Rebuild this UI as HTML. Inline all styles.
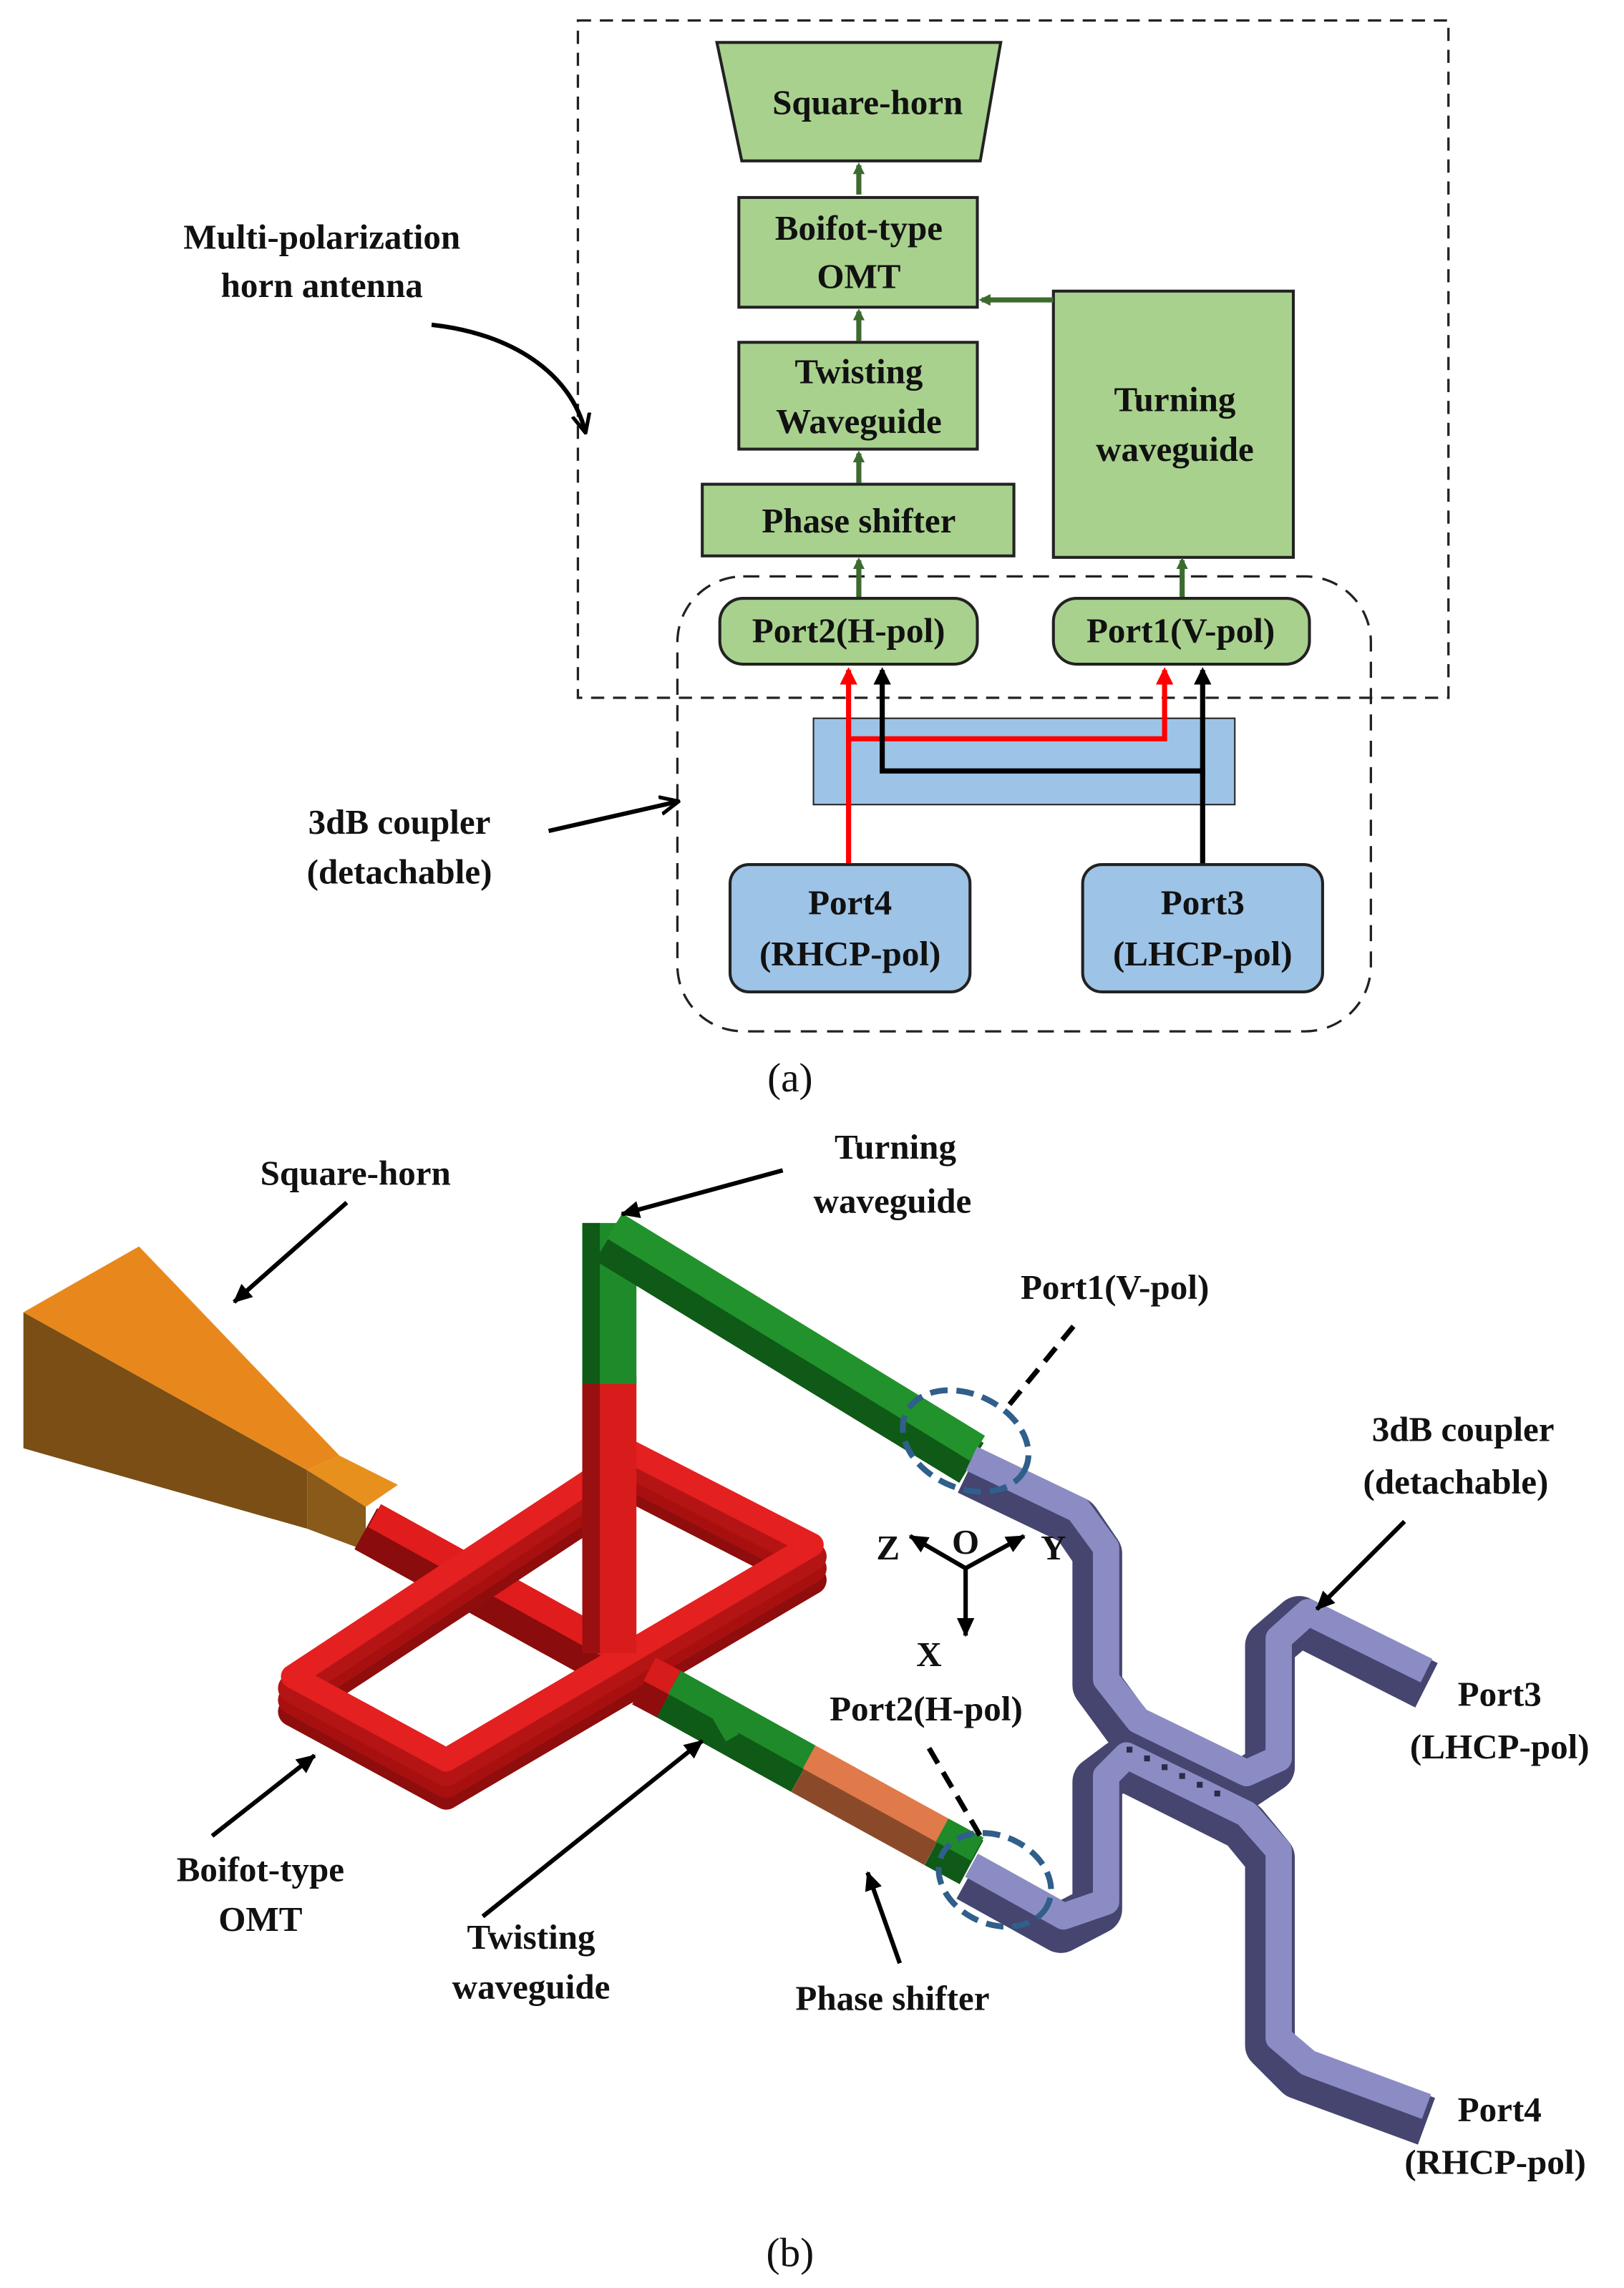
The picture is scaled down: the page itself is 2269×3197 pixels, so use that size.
<!DOCTYPE html>
<html><head><meta charset="utf-8"><style>
html,body{margin:0;padding:0;background:#fff}
svg{display:block}
text{font-family:"Liberation Serif",serif;font-weight:bold;fill:#111;text-anchor:middle}
</style></head><body>
<svg width="2269" height="3197" viewBox="0 0 1110 1564" preserveAspectRatio="none" xmlns="http://www.w3.org/2000/svg">
<defs>
<marker id="ag" markerWidth="8" markerHeight="8" refX="6" refY="4" orient="auto" markerUnits="userSpaceOnUse"><path d="M0,0 L8,4 L0,8 z" fill="#3d6b2f"/></marker>
<marker id="ar" markerWidth="12" markerHeight="12" refX="10" refY="6" orient="auto" markerUnits="userSpaceOnUse"><path d="M0,0 L12,6 L0,12 z" fill="#f00"/></marker>
<marker id="ab" markerWidth="12" markerHeight="12" refX="10" refY="6" orient="auto" markerUnits="userSpaceOnUse"><path d="M0,0 L12,6 L0,12 z" fill="#000"/></marker>
<marker id="ak" markerWidth="14" markerHeight="14" refX="12" refY="7" orient="auto" markerUnits="userSpaceOnUse"><path d="M0,1 L13,7 L0,13" fill="none" stroke="#000" stroke-width="2.5"/></marker>
<marker id="af" markerWidth="14" markerHeight="14" refX="12" refY="7" orient="auto" markerUnits="userSpaceOnUse"><path d="M0,1 L13,7 L0,13 z" fill="#000"/></marker>
</defs>
<!-- (a) -->
<rect x="395" y="14" width="595" height="463" fill="none" stroke="#222" stroke-width="1.6" stroke-dasharray="9,6"/>
<rect x="463" y="394" width="474" height="311" rx="45" fill="none" stroke="#222" stroke-width="1.6" stroke-dasharray="11,7"/>
<g fill="#a9d18e" stroke="#222" stroke-width="2">
<polygon points="490,29 684,29 670,110 507,110"/>
<rect x="505" y="135" width="163" height="75"/>
<rect x="505" y="234" width="163" height="73"/>
<rect x="480" y="331" width="213" height="49"/>
<rect x="720" y="199" width="164" height="182"/>
<rect x="492" y="409" width="176" height="45" rx="16"/>
<rect x="720" y="409" width="175" height="45" rx="16"/>
</g>
<g fill="#9dc3e6" stroke="#222" stroke-width="2">
<rect x="556" y="491" width="288" height="59" stroke-width="1"/>
<rect x="499" y="591" width="164" height="87" rx="13"/>
<rect x="740" y="591" width="164" height="87" rx="13"/>
</g>
<g stroke="#3d6b2f" stroke-width="3.5" fill="none">
<line x1="587" y1="133" x2="587" y2="113" marker-end="url(#ag)"/>
<line x1="587" y1="233" x2="587" y2="213" marker-end="url(#ag)"/>
<line x1="587" y1="330" x2="587" y2="310" marker-end="url(#ag)"/>
<line x1="587" y1="408" x2="587" y2="383" marker-end="url(#ag)"/>
<line x1="808" y1="408" x2="808" y2="383" marker-end="url(#ag)"/>
<line x1="720" y1="205" x2="671" y2="205" marker-end="url(#ag)"/>
</g>
<polyline points="580,590 580,505 796,505 796,458" fill="none" stroke="#f00" stroke-width="3.5" marker-end="url(#ar)"/>
<line x1="580" y1="510" x2="580" y2="458" stroke="#f00" stroke-width="3.5" marker-end="url(#ar)"/>
<polyline points="822,590 822,527 603,527 603,458" fill="none" stroke="#000" stroke-width="3.5" marker-end="url(#ab)"/>
<line x1="822" y1="530" x2="822" y2="458" stroke="#000" stroke-width="3.5" marker-end="url(#ab)"/>
<g font-size="24">
<text x="593" y="78">Square-horn</text>
<text x="587" y="164">Boifot-type</text>
<text x="587" y="197">OMT</text>
<text x="587" y="262">Twisting</text>
<text x="587" y="296">Waveguide</text>
<text x="587" y="364">Phase shifter</text>
<text x="803" y="281">Turning</text>
<text x="803" y="315">waveguide</text>
<text x="580" y="439">Port2(H-pol)</text>
<text x="807" y="439">Port1(V-pol)</text>
<text x="581" y="625">Port4</text>
<text x="581" y="660">(RHCP-pol)</text>
<text x="822" y="625">Port3</text>
<text x="822" y="660">(LHCP-pol)</text>
<text x="220" y="170">Multi-polarization</text>
<text x="220" y="203">horn antenna</text>
<text x="273" y="570">3dB coupler</text>
<text x="273" y="604">(detachable)</text>
</g>
<text x="540" y="746" font-size="28" style="font-weight:normal">(a)</text>
<path d="M295,222 C350,228 390,255 400,295" fill="none" stroke="#000" stroke-width="3" marker-end="url(#ak)"/>
<line x1="375" y1="568" x2="463" y2="548" stroke="#000" stroke-width="3" marker-end="url(#ak)"/>

<!-- (b) 3D -->
<!-- horn -->
<polygon points="16,897 210,1005 210,1045 16,990" fill="#7a4e14"/>
<polygon points="16,897 95,852 232,995 210,1005" fill="#e8881c"/>
<polygon points="210,1005 232,995 272,1015 250,1030" fill="#e8901e"/>
<polygon points="210,1005 250,1030 250,1060 210,1045" fill="#8a5a1a"/>
<!-- central red bar horn->lower arm -->
<g fill="none" stroke-linecap="butt">
<line x1="250" y1="1045" x2="440" y2="1150" stroke="#8a0c0c" stroke-width="32"/>
<line x1="256" y1="1036" x2="446" y2="1141" stroke="#e01c1c" stroke-width="18"/>
</g>
<!-- OMT ring (extruded) -->
<g fill="none" stroke-linejoin="round">
<path d="M200,1170 L432,1017 L555,1080 L305,1227 Z" stroke="#8f0d0d" stroke-width="20"/>
<path d="M200,1162 L432,1009 L555,1072 L305,1219 Z" stroke="#a81010" stroke-width="20"/>
<path d="M200,1154 L432,1001 L555,1064 L305,1211 Z" stroke="#b51414" stroke-width="20"/>
<path d="M200,1146 L432,993 L555,1056 L305,1203 Z" stroke="#e52020" stroke-width="16"/>
</g>
<!-- vertical post -->
<rect x="398" y="940" width="37" height="190" fill="#d81b1b"/>
<rect x="398" y="940" width="12" height="190" fill="#9a0f0f"/>
<rect x="398" y="836" width="37" height="110" fill="#1f8a2a"/>
<rect x="398" y="836" width="12" height="110" fill="#0f5a16"/>
<!-- top beam -->
<g fill="none" stroke-linecap="butt">
<line x1="415" y1="848" x2="664" y2="1000" stroke="#0f5a16" stroke-width="32"/>
<line x1="420" y1="838" x2="668" y2="990" stroke="#22922c" stroke-width="20"/>
</g>
<!-- lower arm -->
<g fill="none" stroke-linecap="butt">
<line x1="440" y1="1150" x2="457" y2="1159" stroke="#8f0d0d" stroke-width="34"/>
<line x1="457" y1="1159" x2="549" y2="1210" stroke="#0f5a16" stroke-width="34"/>
<line x1="549" y1="1210" x2="640" y2="1260" stroke="#8a4a2a" stroke-width="34"/>
<line x1="640" y1="1260" x2="664" y2="1273" stroke="#0f5a16" stroke-width="34"/>
<line x1="444" y1="1141" x2="461" y2="1150" stroke="#d81b1b" stroke-width="18"/>
<line x1="461" y1="1150" x2="553" y2="1201" stroke="#1f8a2a" stroke-width="18"/>
<line x1="553" y1="1201" x2="644" y2="1251" stroke="#e07a4a" stroke-width="18"/>
<line x1="644" y1="1251" x2="668" y2="1264" stroke="#1f8a2a" stroke-width="18"/>
</g>
<rect x="488" y="1160" width="10" height="30" fill="#1f8a2a" transform="rotate(-30 493 1175)"/>
<!-- purple coupler -->
<g fill="none" stroke-linejoin="round" stroke-linecap="butt">
<polyline points="662,1005 735,1040 750,1062 750,1152 772,1182 850,1220 868,1208 868,1125 888,1108 975,1152" stroke="#454570" stroke-width="34"/>
<polyline points="664,997 737,1032 756,1058 756,1148 778,1176 852,1212 874,1202 874,1120 894,1102 975,1142" stroke="#8c8cc4" stroke-width="18"/>
<polyline points="662,1283 725,1318 750,1305 750,1218 766,1206 850,1248 868,1270 868,1398 888,1418 975,1450" stroke="#454570" stroke-width="34"/>
<polyline points="664,1275 727,1310 756,1300 756,1214 770,1200 852,1240 874,1265 874,1393 894,1410 975,1440" stroke="#8c8cc4" stroke-width="18"/>
</g>
<g fill="#2b2b48">
<rect x="770" y="1194" width="4" height="4"/><rect x="782" y="1200" width="4" height="4"/><rect x="794" y="1206" width="4" height="4"/><rect x="806" y="1212" width="4" height="4"/><rect x="818" y="1218" width="4" height="4"/><rect x="830" y="1224" width="4" height="4"/>
</g>
<!-- dashed ellipses & leaders -->
<ellipse cx="660" cy="985" rx="45" ry="32" transform="rotate(25 660 985)" fill="none" stroke="#2f5f8a" stroke-width="4" stroke-dasharray="12,6"/>
<ellipse cx="680" cy="1285" rx="40" ry="30" transform="rotate(25 680 1285)" fill="none" stroke="#2f5f8a" stroke-width="4" stroke-dasharray="12,6"/>
<line x1="690" y1="960" x2="735" y2="905" stroke="#000" stroke-width="3.5" stroke-dasharray="12,7"/>
<line x1="635" y1="1195" x2="670" y2="1255" stroke="#000" stroke-width="3.5" stroke-dasharray="12,7"/>
<!-- axes -->
<g stroke="#000" stroke-width="3">
<line x1="660" y1="1072" x2="622" y2="1050" marker-end="url(#af)"/>
<line x1="660" y1="1072" x2="700" y2="1050" marker-end="url(#af)"/>
<line x1="660" y1="1072" x2="660" y2="1118" marker-end="url(#af)"/>
</g>
<!-- leader arrows -->
<g stroke="#000" stroke-width="3">
<line x1="237" y1="822" x2="160" y2="890" marker-end="url(#af)"/>
<line x1="535" y1="800" x2="425" y2="830" marker-end="url(#af)"/>
<line x1="960" y1="1040" x2="900" y2="1100" marker-end="url(#af)"/>
<line x1="145" y1="1255" x2="215" y2="1200" marker-end="url(#af)"/>
<line x1="330" y1="1310" x2="480" y2="1190" marker-end="url(#af)"/>
<line x1="615" y1="1342" x2="593" y2="1280" marker-end="url(#af)"/>
</g>
<g font-size="24">
<text x="243" y="810">Square-horn</text>
<text x="612" y="792">Turning</text>
<text x="610" y="829">waveguide</text>
<text x="762" y="888">Port1(V-pol)</text>
<text x="1000" y="985">3dB coupler</text>
<text x="995" y="1021">(detachable)</text>
<text x="1025" y="1166">Port3</text>
<text x="1025" y="1202">(LHCP-pol)</text>
<text x="633" y="1176">Port2(H-pol)</text>
<text x="178" y="1286">Boifot-type</text>
<text x="178" y="1320">OMT</text>
<text x="363" y="1332">Twisting</text>
<text x="363" y="1366">waveguide</text>
<text x="610" y="1374">Phase shifter</text>
<text x="1025" y="1450">Port4</text>
<text x="1022" y="1486">(RHCP-pol)</text>
<text x="607" y="1066">Z</text>
<text x="660" y="1062">O</text>
<text x="720" y="1066">Y</text>
<text x="635" y="1139">X</text>
</g>
<text x="540" y="1549" font-size="28" style="font-weight:normal">(b)</text>
</svg>
</body></html>
